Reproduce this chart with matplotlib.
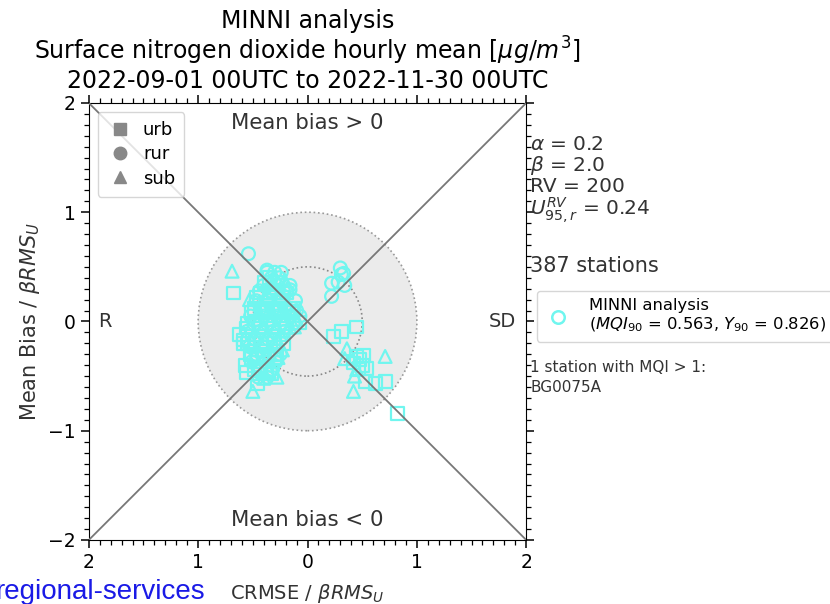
import matplotlib.pyplot as plt
import matplotlib.patches as mpatches
from matplotlib.lines import Line2D
from matplotlib.ticker import MultipleLocator, FuncFormatter

# station points (CRMSE side: negative = R dominated, positive = SD dominated)
urb_x = [-0.35, -0.43, -0.31, -0.19, -0.49, -0.37, -0.25, -0.13,
         -0.55, -0.43, -0.31, -0.19, -0.54, -0.42, -0.30, -0.52,
         -0.40, -0.28, -0.49, -0.37,
         -0.39, -0.27, -0.47, -0.35, -0.23, -0.51, -0.39, -0.27, -0.15,
         -0.56, -0.44, -0.32, -0.20, -0.55, -0.43, -0.31, -0.22,
         -0.51, -0.39, -0.30, -0.45, -0.33, -0.07,
         -0.68, -0.59, -0.56, -0.46, -0.59, -0.62, -0.57,
         0.45, 0.31, 0.24, 0.51, 0.45, 0.42, 0.54, 0.53, 0.62, 0.71,
         0.82, 0.48, 0.47, 0.50]
urb_y = [0.40, 0.26, 0.26, 0.26, 0.12, 0.12, 0.12, 0.12,
         -0.02, -0.02, -0.02, -0.02, -0.16, -0.16, -0.16, -0.30,
         -0.30, -0.30, -0.44, -0.44,
         0.36, 0.36, 0.22, 0.22, 0.22, 0.08, 0.08, 0.08, 0.08,
         -0.06, -0.06, -0.06, -0.06, -0.20, -0.20, -0.20, -0.20,
         -0.34, -0.34, -0.34, -0.48, -0.48, -0.01,
         0.26, -0.17, -0.47, -0.57, -0.20, -0.12, -0.40,
         -0.05, -0.09, -0.14, -0.31, -0.32, -0.38, -0.43, -0.55, -0.57, -0.55,
         -0.84, -0.35, -0.43, -0.40]

rur_x = [-0.37, -0.30, -0.24, -0.40, -0.28, -0.16, -0.47, -0.35,
         -0.23, -0.11, -0.52, -0.40, -0.28, -0.16, -0.07, -0.55,
         -0.43, -0.31, -0.21, -0.53, -0.41, -0.29, -0.51, -0.39,
         -0.29, -0.45, -0.37,
         -0.33, -0.26, -0.44, -0.34, -0.22, -0.43, -0.31, -0.19,
         -0.49, -0.37, -0.25, -0.13, -0.48, -0.36, -0.24, -0.47,
         -0.35, -0.25, -0.43, -0.32, -0.10,
         -0.54, -0.37, -0.16,
         0.30, 0.33, 0.22, 0.28, 0.34, 0.22, 0.31]
rur_y = [0.45, 0.45, 0.45, 0.33, 0.33, 0.33, 0.19, 0.19,
         0.19, 0.19, 0.05, 0.05, 0.05, 0.05, 0.05, -0.09,
         -0.09, -0.09, -0.09, -0.23, -0.23, -0.23, -0.37, -0.37,
         -0.37, -0.51, -0.51,
         0.40, 0.40, 0.28, 0.28, 0.28, 0.12, 0.12, 0.12,
         -0.02, -0.02, -0.02, -0.02, -0.16, -0.16, -0.16, -0.30,
         -0.30, -0.30, -0.44, -0.44, 0.10,
         0.62, 0.47, 0.29,
         0.49, 0.44, 0.35, 0.36, 0.33, 0.23, 0.43]

sub_x = [-0.33, -0.21, -0.37, -0.25, -0.43, -0.31, -0.19, -0.46,
         -0.34, -0.22, -0.10, -0.49, -0.37, -0.25, -0.47, -0.35,
         -0.23, -0.45, -0.33, -0.40,
         -0.30, -0.18, -0.45, -0.33, -0.21, -0.52, -0.40, -0.28, -0.16,
         -0.51, -0.39, -0.27, -0.49, -0.37, -0.27, -0.41, -0.35, -0.12,
         -0.69, -0.53, -0.28, -0.50,
         0.36, 0.71, 0.34, 0.43, 0.42, 0.45]
sub_y = [0.38, 0.38, 0.26, 0.26, 0.15, 0.15, 0.15, 0.02,
         0.02, 0.02, 0.02, -0.12, -0.12, -0.12, -0.26, -0.26,
         -0.26, -0.40, -0.40, -0.52,
         0.31, 0.31, 0.09, 0.09, 0.09, -0.05, -0.05, -0.05, -0.05,
         -0.19, -0.19, -0.19, -0.33, -0.33, -0.33, -0.46, -0.46, -0.05,
         0.46, 0.20, -0.51, -0.64,
         -0.25, -0.32, -0.34, -0.50, -0.64, -0.44]

params = [r'$\alpha$ = 0.2', r'$\beta$ = 2.0', 'RV = 200',
          r'$U^{RV}_{95,r}$ = 0.24']
n_stations = 387
mqi90 = 0.563
y90 = 0.826
bad_stations = ['BG0075A']

pt_col = '#70f6ef'


def main():
    fig = plt.figure(figsize=(8.3, 6.04), dpi=100)
    ax = fig.add_axes([0.107, 0.106, 0.527, 0.7235])

    ax.add_patch(mpatches.Circle((0, 0), 1.0, facecolor='#ebebeb',
                                 edgecolor='#999999', ls=':', lw=1.2,
                                 zorder=1))
    ax.add_patch(mpatches.Circle((0, 0), 0.5, facecolor='none',
                                 edgecolor='#888888', ls=':', lw=1.2,
                                 zorder=1))

    kw = dict(facecolors='none', edgecolors=pt_col, s=85, linewidths=1.6,
              zorder=2)
    ax.scatter(urb_x, urb_y, marker='s', **kw)
    ax.scatter(rur_x, rur_y, marker='o', **kw)
    ax.scatter(sub_x, sub_y, marker='^', **kw)

    ax.plot([-2, 2], [-2, 2], color='#777777', lw=1.3, zorder=3)
    ax.plot([-2, 2], [2, -2], color='#777777', lw=1.3, zorder=3)

    ax.set_xlim(-2, 2)
    ax.set_ylim(-2, 2)
    ax.xaxis.set_major_locator(MultipleLocator(1))
    ax.yaxis.set_major_locator(MultipleLocator(1))
    ax.xaxis.set_minor_locator(MultipleLocator(0.1))
    ax.yaxis.set_minor_locator(MultipleLocator(0.1))
    ax.xaxis.set_major_formatter(FuncFormatter(lambda v, p: '%d' % abs(v)))
    ax.tick_params(which='both', direction='out', top=True, right=True,
                   labelsize=13.5)
    ax.tick_params(which='major', length=6, width=1.1)
    ax.tick_params(which='minor', length=3.5, width=0.9)

    txt = '#333333'
    ax.text(0, 1.82, 'Mean bias > 0', ha='center', va='center',
            fontsize=15.3, color=txt)
    ax.text(0, -1.82, 'Mean bias < 0', ha='center', va='center',
            fontsize=15.3, color=txt)
    ax.text(-1.85, 0, 'R', ha='center', va='center', fontsize=14, color=txt)
    ax.text(1.78, 0, 'SD', ha='center', va='center', fontsize=14, color=txt)

    ax.set_xlabel(r'CRMSE / $\beta RMS_U$', fontsize=14, color=txt,
                  labelpad=7)
    ax.set_ylabel(r'Mean Bias / $\beta RMS_U$', fontsize=15, color=txt,
                  labelpad=4)
    ax.set_title('MINNI analysis\n'
                 r'Surface nitrogen dioxide hourly mean [$\mu g/m^3$]' '\n'
                 '2022-09-01 00UTC to 2022-11-30 00UTC',
                 fontsize=17, pad=11, linespacing=1.08)

    handles = [Line2D([], [], marker=m, ls='none', color='#888888',
                      markersize=9)
               for m in ['s', 'o', '^']]
    ax.legend(handles, ['urb', 'rur', 'sub'], loc='upper left',
              fontsize=13, handlelength=1.5, handletextpad=0.5,
              borderpad=0.5, labelspacing=0.35)

    ys = [0.904, 0.858, 0.808, 0.752]
    for s, y in zip(params, ys):
        ax.text(1.009, y, s, transform=ax.transAxes, ha='left',
                va='center', fontsize=14.5, color=txt)
    ax.text(1.009, 0.627, '%d stations' % n_stations,
            transform=ax.transAxes, ha='left', va='center', fontsize=15,
            color=txt)
    ax.text(1.009, 0.394, '1 station with MQI > 1:',
            transform=ax.transAxes, ha='left', va='center', fontsize=11,
            color=txt)
    ax.text(1.009, 0.348, bad_stations[0], transform=ax.transAxes,
            ha='left', va='center', fontsize=11, color=txt)

    h = Line2D([], [], marker='o', ls='none', markerfacecolor='none',
               markeredgecolor=pt_col, markeredgewidth=1.8, markersize=9)
    fig.legend([h], ['MINNI analysis\n($MQI_{90}$ = %.3f, $Y_{90}$ = %.3f)'
                     % (mqi90, y90)],
               loc='upper left', bbox_to_anchor=(0.637, 0.532),
               fontsize=11.8, handlelength=1.7, handletextpad=1.0,
               borderpad=0.45)

    fig.text(-0.006, 0.008, 'regional-services', color='#1a1ae6',
             fontsize=20, family='Liberation Sans', ha='left',
             va='baseline')

    plt.savefig('out.png')


if __name__ == '__main__':
    main()
